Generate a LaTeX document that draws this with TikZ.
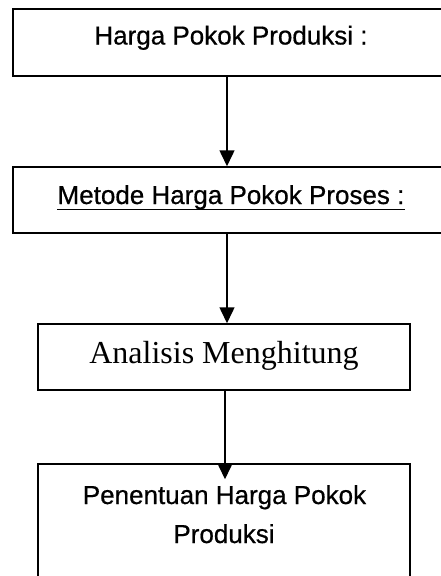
\documentclass[tikz,border=0pt]{standalone}
\usepackage{fontspec}
\setmainfont{Liberation Serif}
\newfontfamily\arialf[FakeBold=0.6]{Liberation Sans}
\usetikzlibrary{arrows.meta}
\begin{document}
\begin{tikzpicture}[x=1pt,y=-1pt,
  boxstyle/.style={draw=black,line width=1.5pt,inner sep=0pt,rectangle,fill=none},
  sanstext/.style={inner sep=0pt,anchor=base,font=\arialf\fontsize{26}{31}\selectfont},
  seriftext/.style={inner sep=0pt,anchor=base,font=\fontsize{32}{38}\selectfont},
  arr/.style={line width=1.5pt,-{Triangle[width=15pt,length=16pt]}}]
\useasboundingbox[fill=white] (0,0) rectangle (440,576);
% boxes
\node[boxstyle,minimum width=436pt,minimum height=67pt] (b1) at (231,42.5) {};
\node[boxstyle,minimum width=436pt,minimum height=66pt] (b2) at (231,200) {};
\node[boxstyle,minimum width=372pt,minimum height=66pt] (b3) at (224,357) {};
\node[boxstyle,minimum width=372pt,minimum height=140pt] (b4) at (224,534) {};
% texts
\node[sanstext] (t1) at (231,44.5) {Harga Pokok Produksi :};
\node[sanstext] (t2) at (231,204) {Metode Harga Pokok Proses :};
\draw[line width=1.4pt] ([yshift=-5.5pt]t2.base west) -- ([yshift=-5.5pt]t2.base east);
\node[seriftext] (t3) at (224,363) {Analisis Menghitung};
\node[sanstext] (t4a) at (224.5,504) {Penentuan Harga Pokok};
\node[sanstext] (t4b) at (224,543) {Produksi};
% connectors
\draw[arr] ([xshift=-4pt]b1.south) -- ([xshift=-4pt]b2.north);
\draw[arr] ([xshift=-4pt]b2.south) -- ([xshift=3pt]b3.north);
\draw[arr] ([xshift=1pt]b3.south) -- ([xshift=1pt,yshift=-16pt]b4.north);
\end{tikzpicture}
\end{document}
